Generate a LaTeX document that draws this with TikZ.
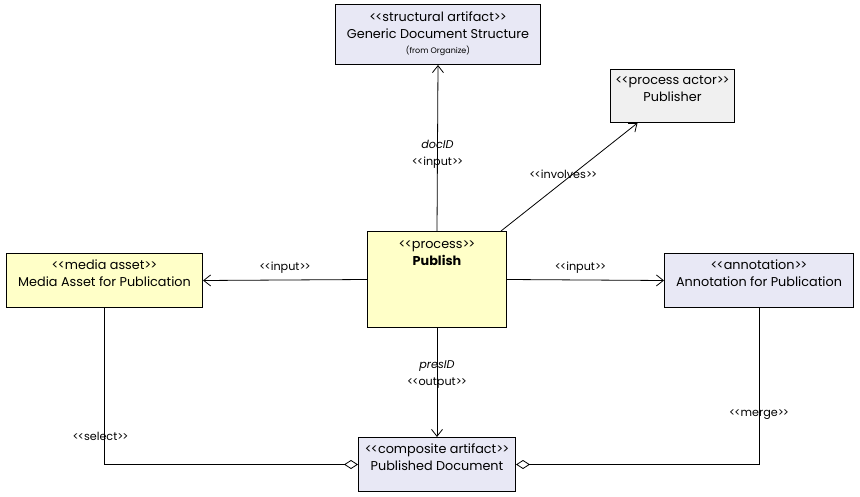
\documentclass[tikz,border=0pt]{standalone}
\usepackage{fontspec}
\setmainfont{Poppins}
\usetikzlibrary{positioning}
\usetikzlibrary{arrows.meta}

\definecolor{lavender}{RGB}{232,232,245}
\definecolor{paleyellow}{RGB}{255,255,200}
\definecolor{palegray}{RGB}{240,240,240}
\newcommand{\stereo}[1]{<\kern-1pt<#1>\kern-1pt>}

\begin{document}
\begin{tikzpicture}[x=1pt,y=-1pt,
        box/.style={draw=black, line width=1pt, anchor=north west, align=center, inner sep=0pt,
            font=\fontsize{12.8}{17}\selectfont, text depth=15pt},
        flow/.style={draw=black, line width=0.8pt, -{Straight Barb[length=7pt,width=11pt,line width=0.8pt]}},
        whole/.style={draw=black, line width=1pt, -{Diamond[open,length=14pt,width=9pt,line width=0.8pt]}},
        tag/.style={font=\fontsize{11.2}{17}\selectfont, align=center}]
        \useasboundingbox (0,0) rectangle (860,497);

        \node[box, text depth=3pt, fill=lavender, minimum width=205pt, minimum height=60pt] (gds) at (335,4)
            {\stereo{structural artifact}\\Generic Document Structure\\[-2pt]{\fontsize{8}{9}\selectfont (from Organize)}};
        \node[box, fill=palegray, minimum width=124pt, minimum height=53pt] (actor) at (610,69)
            {\stereo{process actor}\\Publisher};
        \node[box, fill=paleyellow, minimum width=139pt, minimum height=96pt,
            label={[tag, font=\fontsize{12.8}{17}\selectfont, anchor=north, yshift=-6pt]north:{\stereo{process}\\\textbf{Publish}}}] (pub) at (367,231) {};
        \node[box, fill=paleyellow, minimum width=196pt, minimum height=54pt] (media) at (6,253)
            {\stereo{media asset}\\Media Asset for Publication};
        \node[box, fill=lavender, minimum width=189pt, minimum height=54pt] (annot) at (664,253)
            {\stereo{annotation}\\Annotation for Publication};
        \node[box, fill=lavender, minimum width=157pt, minimum height=54pt] (doc) at (358,437)
            {\stereo{composite artifact}\\Published Document};

        \draw[flow] (pub.north) -- (gds.south) node[tag, midway, yshift=-6pt] {\textit{docID}\\\stereo{input}};
        \draw[flow] ([xshift=-6pt]pub.north east) -- ([xshift=-35pt]actor.south) node[tag, midway, xshift=-6pt, yshift=3pt] {\stereo{involves}};
        \draw[flow] (pub.west) -- (media.east) node[tag, midway, above=3pt] {\stereo{input}};
        \draw[flow] (pub.east) -- (annot.west) node[tag, midway, xshift=-5pt, above=3pt] {\stereo{input}};
        \draw[flow] (pub.south) -- (doc.north) node[tag, midway, yshift=8pt] {\textit{presID}\\\stereo{output}};
        \draw[whole] (media.south) |- (doc.west) node[tag, pos=0.41, xshift=-4pt] {\stereo{select}};
        \draw[whole] (annot.south) |- (doc.east) node[tag, pos=0.34] {\stereo{merge}};
    \end{tikzpicture}
\end{document}
